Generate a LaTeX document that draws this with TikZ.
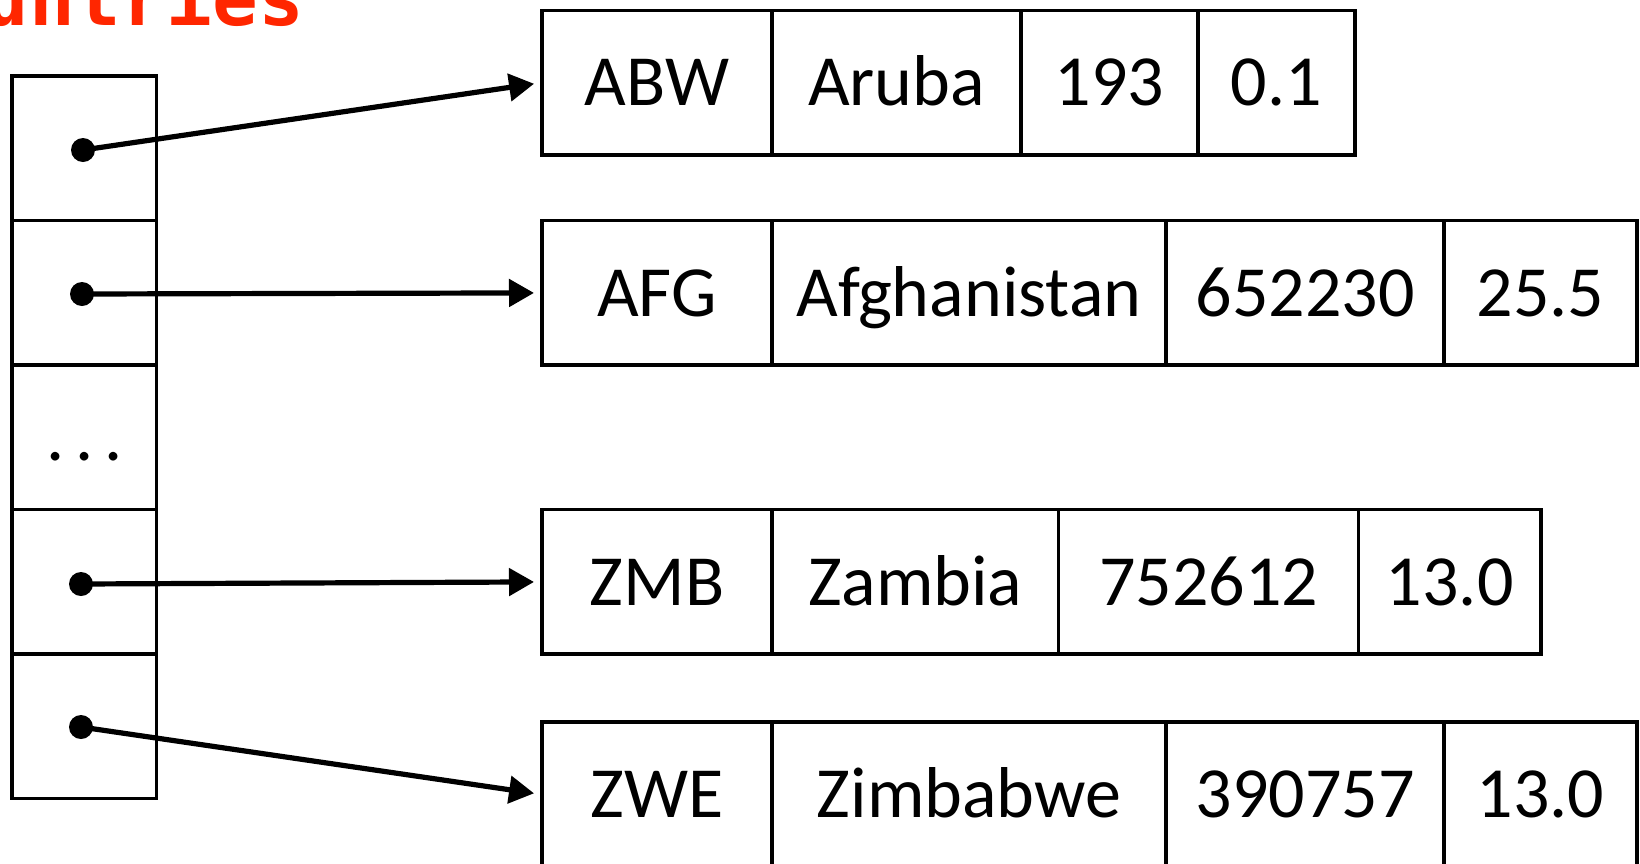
\documentclass[tikz,border=0pt]{standalone}
\usepackage{fontspec}
\setmainfont{Carlito}
\newfontfamily\codefont{DejaVu Sans Mono}
\usetikzlibrary{positioning,arrows.meta}
\definecolor{varred}{RGB}{255,38,0}

\begin{document}
\begin{tikzpicture}[x=0.5pt,y=-0.5pt,
  cell/.style={draw,line width=1.8pt,outer sep=0pt,inner sep=0pt,
    minimum height=72.25pt,text height=23.2pt,text depth=0pt,
    font=\fontsize{36}{40}\selectfont},
  slot/.style={cell,minimum width=72.25pt},
  ptrdot/.style={circle,fill,inner sep=0pt,minimum size=12pt},
  ptr/.style={line width=2.6pt,-{Triangle[length=12.5pt,width=13.5pt]},shorten >=4pt}]
\useasboundingbox (0,0) rectangle (1640,863);
\node[anchor=base west,inner sep=0pt,text=varred,
  font=\codefont\bfseries\fontsize{38}{40}\selectfont] (countries) at (-108,25) {countries};
\node[slot] (slot1) at (84.4,148.2) {};
\node[slot,below=0pt of slot1] (slot2) {};
\node[slot,below=0pt of slot2] (slot3) {.\hspace{5.5pt}.\hspace{5.5pt}.};
\node[slot,below=0pt of slot3] (slot4) {};
\node[slot,below=0pt of slot4] (slot5) {};
\node[ptrdot] (d1) at (83,150) {};
\node[ptrdot] (d2) at (82,294) {};
\node[ptrdot] (d4) at (81,584) {};
\node[ptrdot] (d5) at (81,727) {};
\node[cell,minimum width=115pt,anchor=west] (abwcode) at (542,82.6) {ABW};
\node[cell,minimum width=124.5pt,right=0pt of abwcode] (abwname) {Aruba};
\node[cell,minimum width=88.5pt,right=0pt of abwname] (abwarea) {193};
\node[cell,minimum width=78.5pt,right=0pt of abwarea] (abwpop) {0.1};
\node[cell,minimum width=115pt,anchor=west] (afgcode) at (542,292.9) {AFG};
\node[cell,minimum width=197pt,right=0pt of afgcode] (afgname) {Afghanistan};
\node[cell,minimum width=139pt,right=0pt of afgname] (afgarea) {652230};
\node[cell,minimum width=96.5pt,right=0pt of afgarea] (afgpop) {25.5};
\node[cell,minimum width=115pt,anchor=west] (zmbcode) at (542,581.9) {ZMB};
\node[cell,minimum width=143.25pt,right=0pt of zmbcode] (zmbname) {Zambia};
\node[cell,minimum width=150pt,right=0pt of zmbname] (zmbarea) {752612};
\node[cell,minimum width=91.25pt,right=0pt of zmbarea] (zmbpop) {13.0};
\node[cell,minimum width=115pt,anchor=west] (zwecode) at (542,794.5) {ZWE};
\node[cell,minimum width=197pt,right=0pt of zwecode] (zwename) {Zimbabwe};
\node[cell,minimum width=139pt,right=0pt of zwename] (zwearea) {390757};
\node[cell,minimum width=96.5pt,right=0pt of zwearea] (zwepop) {13.0};
\draw[ptr] (d1.center) -- (abwcode.west);
\draw[ptr] (d2.center) -- (afgcode.west);
\draw[ptr] (d4.center) -- (zmbcode.west);
\draw[ptr] (d5.center) -- (zwecode.west);
\end{tikzpicture}
\end{document}
